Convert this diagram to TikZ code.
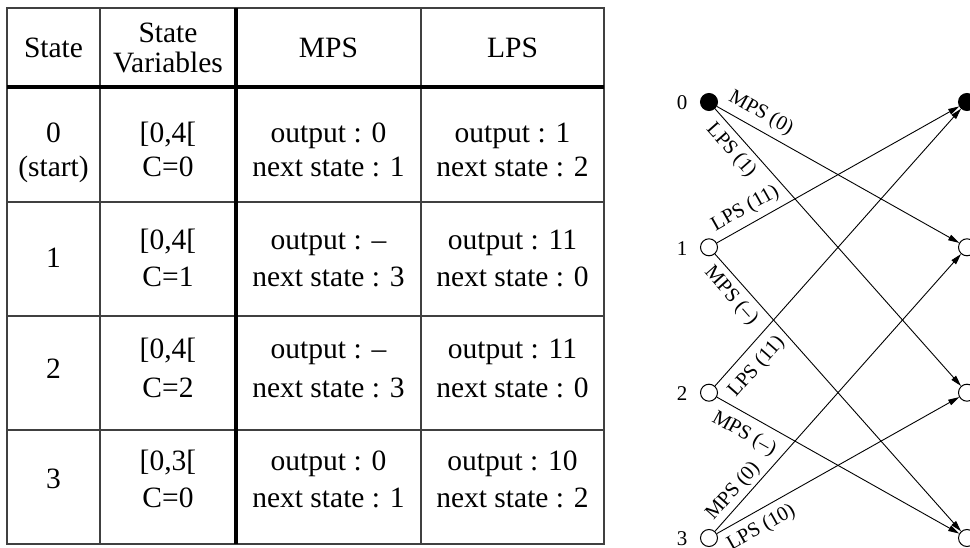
\documentclass[tikz,border=0pt]{standalone}
\usepackage{fontspec}
\setmainfont{Liberation Serif}
\usetikzlibrary{arrows.meta,calc}

\begin{document}
\begin{tikzpicture}[x=1pt,y=-1pt,
  thinrule/.style={line width=1.3pt, draw=black!75},
  thickrule/.style={line width=3.6pt, draw=black},
  cell/.style={anchor=base, inner sep=0pt, font=\fontsize{29.5}{35}\selectfont},
  dot/.style={circle, draw=black, line width=1pt, minimum size=17pt, inner sep=0pt},
  full/.style={dot, fill=black},
  idx/.style={inner sep=0pt, font=\fontsize{21}{25}\selectfont},
  arr/.style={line width=0.9pt, -{Triangle[length=11pt,width=6pt]}},
  lab/.style={sloped, inner sep=0pt, font=\fontsize{20.5}{24}\selectfont}
]
\useasboundingbox (0,0) rectangle (970,548);

% ---------- state table ----------
\draw[thinrule] (7,8) rectangle (604,544);
\draw[thinrule] (100,8) -- (100,544);
\draw[thinrule] (421,8) -- (421,544);
\foreach \yy in {202,316,430} \draw[thinrule] (7,\yy) -- (604,\yy);
\draw[thickrule] (7,87) -- (604,87);
\draw[thickrule] (236,8) -- (236,544);

% header
\node[cell] (h-state) at (53.5,58) {State};
\node[cell] (h-var1) at (168,43) {State};
\node[cell] (h-var2) at (168,73) {Variables};
\node[cell] (h-mps) at (328.5,58) {MPS};
\node[cell] (h-lps) at (512.5,58) {LPS};

% row 0
\node[cell] (s0a) at (53.5,143) {0};
\node[cell] (s0b) at (53.5,177) {(start)};
\node[cell] (v0a) at (168,143) {[0,4[};
\node[cell] (v0b) at (168,177) {C=0};
\node[cell] (m0a) at (328.5,143) {output : 0};
\node[cell] (m0b) at (328.5,177) {next state : 1};
\node[cell] (l0a) at (512.5,143) {output : 1};
\node[cell] (l0b) at (512.5,177) {next state : 2};

% row 1
\node[cell] (s1) at (53.5,268) {1};
\node[cell] (v1a) at (168,250) {[0,4[};
\node[cell] (v1b) at (168,287) {C=1};
\node[cell] (m1a) at (328.5,250) {output : –};
\node[cell] (m1b) at (328.5,287) {next state : 3};
\node[cell] (l1a) at (512.5,250) {output : 11};
\node[cell] (l1b) at (512.5,287) {next state : 0};

% row 2
\node[cell] (s2) at (53.5,378) {2};
\node[cell] (v2a) at (168,359) {[0,4[};
\node[cell] (v2b) at (168,397) {C=2};
\node[cell] (m2a) at (328.5,359) {output : –};
\node[cell] (m2b) at (328.5,397) {next state : 3};
\node[cell] (l2a) at (512.5,359) {output : 11};
\node[cell] (l2b) at (512.5,397) {next state : 0};

% row 3
\node[cell] (s3) at (53.5,488) {3};
\node[cell] (v3a) at (168,470) {[0,3[};
\node[cell] (v3b) at (168,507) {C=0};
\node[cell] (m3a) at (328.5,470) {output : 0};
\node[cell] (m3b) at (328.5,507) {next state : 1};
\node[cell] (l3a) at (512.5,470) {output : 10};
\node[cell] (l3b) at (512.5,507) {next state : 2};

% ---------- trellis ----------
\node[full] (L0) at (709,102) {};
\node[dot]  (L1) at (709,247.3) {};
\node[dot]  (L2) at (709,392.7) {};
\node[dot]  (L3) at (709,538) {};
\node[full] (R0) at (967,102) {};
\node[dot]  (R1) at (967,247.3) {};
\node[dot]  (R2) at (967,392.7) {};
\node[dot]  (R3) at (967,538) {};

\node[idx] (n0) at (682,103) {0};
\node[idx] (n1) at (682,248.3) {1};
\node[idx] (n2) at (682,393.7) {2};
\node[idx] (n3) at (682,539) {3};

\draw[arr] (L0) -- node[lab, pos=0.15, above=6pt] {MPS (0)} (R1);
\draw[arr] (L0) -- node[lab, pos=0.113, below=6pt] {LPS (1)} (R2);
\draw[arr] (L1) -- node[lab, pos=0.15, above=6pt] {LPS (11)} (R0);
\draw[arr] (L1) -- node[lab, pos=0.113, below=6pt] {MPS (–)} (R3);
\draw[arr] (L2) -- node[lab, pos=0.113, below=9pt] {LPS (11)} (R0);
\draw[arr] (L2) -- node[lab, pos=0.15, below=9pt] {MPS (–)} (R3);
\draw[arr] (L3) -- node[lab, pos=0.113, above=3pt] {MPS (0)} (R1);
\draw[arr] (L3) -- node[lab, pos=0.15, below=7pt] {LPS (10)} (R2);
\end{tikzpicture}
\end{document}
